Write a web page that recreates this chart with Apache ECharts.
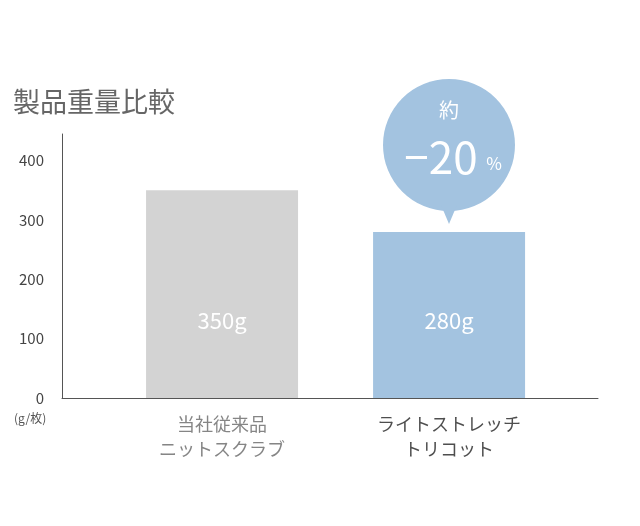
<!DOCTYPE html><html><head><meta charset="utf-8"><script src="https://cdn.jsdelivr.net/npm/echarts@6/dist/echarts.min.js"></script></head><body style="margin:0"><div id="c" style="width:640px;height:526px"></div><script>
const categories=['当社従来品\nニットスクラブ','ライトストレッチ\nトリコット'];
const values=[350,280];
const valueLabels=['350g','280g'];
const yTicks=[0,100,200,300,400];
const colors=['#d3d3d3','#a3c3e0'];
const catColors=['#666','#222'];
const F='"Noto Sans CJK JP","Noto Sans",sans-serif';
const ch=echarts.init(document.getElementById('c'));
ch.setOption({
 animation:false,
 grid:{left:62,right:42,top:134,bottom:128},
 xAxis:{type:'value',min:-0.705,max:1.656,axisLine:{show:true,onZero:false,lineStyle:{color:'#555'}},axisTick:{show:false},axisLabel:{show:false},splitLine:{show:false}},
 yAxis:{type:'value',min:0,max:445,interval:100,axisLine:{show:true,onZero:false,lineStyle:{color:'#555'}},axisTick:{show:false},splitLine:{show:false},
  axisLabel:{color:'#444',fontSize:15,fontFamily:F,margin:18,formatter:v=>yTicks.includes(v)?String(v):''}},
 series:[
  {type:'bar',barWidth:152,data:values.map((v,i)=>({value:[i,v],itemStyle:{color:colors[i]},label:{formatter:valueLabels[i]}})),
   label:{show:true,position:'insideBottom',distance:66,color:'#fff',fontSize:22,fontFamily:F}},
  {type:'scatter',symbolSize:0,data:categories.map((c,i)=>({value:[i,0],label:{formatter:c,color:catColors[i]}})),
   label:{show:true,position:'bottom',distance:14,fontSize:18,lineHeight:25,fontFamily:F,align:'center'}}
 ],
 graphic:[
  {type:'text',left:13,top:88,style:{text:'製品重量比較',fontSize:27,fill:'#666',fontFamily:F}},
  {type:'text',left:14,top:412,style:{text:'(g/枚)',fontSize:12,fill:'#555',fontFamily:F}},
  {type:'circle',shape:{cx:449,cy:145,r:66},style:{fill:'#a3c3e0'}},
  {type:'polygon',shape:{points:[[441,205],[457,205],[449,224]]},style:{fill:'#a3c3e0'}},
  {type:'text',x:449,y:110,style:{text:'約',fontSize:20,fill:'#fff',align:'center',verticalAlign:'middle',fontFamily:F}},
  {type:'text',x:441,y:157,style:{text:'−20',fontSize:44,fill:'#fff',align:'center',verticalAlign:'middle',fontFamily:F}},
  {type:'text',x:494,y:164,style:{text:'%',fontSize:17,fill:'#fff',align:'center',verticalAlign:'middle',fontFamily:F}}
 ]
});
</script></body></html>
